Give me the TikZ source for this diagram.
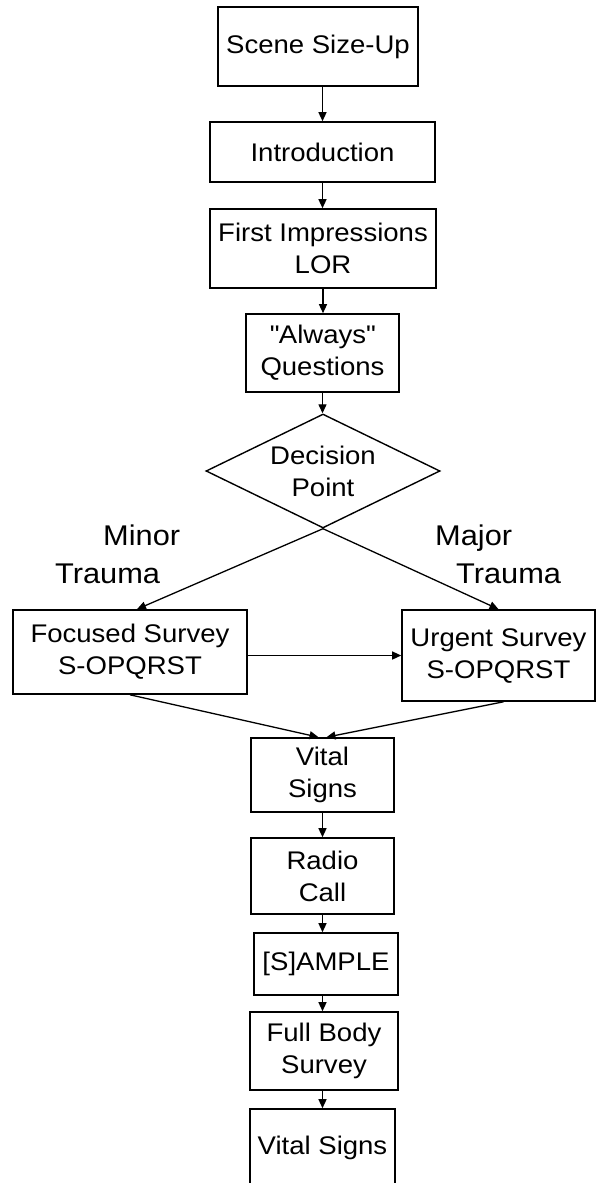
\documentclass[tikz,border=0pt]{standalone}
\usepackage{fontspec}
\setmainfont[FakeStretch=1.08]{Liberation Sans}
\usetikzlibrary{shapes.geometric,arrows.meta}
\begin{document}
\begin{tikzpicture}[x=1pt,y=-1pt,
  box/.style={draw, line width=1.6pt, rectangle, inner sep=0pt, align=center, font=\fontsize{25.5}{32}\selectfont},
  decbox/.style={draw, line width=1.4pt, diamond, aspect=2, inner sep=0pt, align=center, font=\fontsize{25.5}{32}\selectfont},
  lbl/.style={inner sep=0pt, anchor=base west, font=\fontsize{28.5}{38}\selectfont},
  conn/.style={line width=1.3pt, -{Triangle[length=9pt,width=8pt]}},
]
\useasboundingbox (0,0) rectangle (596,1183);
\fill[white] (0,0) rectangle (596,1183);

\node[box, minimum width=200pt, minimum height=79pt] (scene) at (318,46.5) {Scene Size-Up};
\node[box, minimum width=225pt, minimum height=60pt] (intro) at (322.5,152) {Introduction};
\node[box, minimum width=226pt, minimum height=79pt] (fi) at (323,248.5) {First Impressions\\LOR};
\node[box, minimum width=153pt, minimum height=78pt] (always) at (322.5,353) {\textquotedbl Always\textquotedbl\\Questions};
\node[decbox, minimum width=234pt, minimum height=114pt] (dec) at (323,471) {Decision\\Point};

\node[lbl] (minor1) at (103,545) {Minor};
\node[lbl] (minor2) at (55,583) {Trauma};
\node[lbl] (major1) at (435,545) {Major};
\node[lbl] (major2) at (456,583) {Trauma};

\node[box, minimum width=234pt, minimum height=84pt] (foc) at (130,652) {Focused Survey\\S-OPQRST};
\node[box, minimum width=193pt, minimum height=91pt] (urg) at (498.5,655.5) {Urgent Survey\\S-OPQRST};
\node[box, minimum width=143pt, minimum height=74pt] (vit1) at (322.5,775) {Vital\\Signs};
\node[box, minimum width=143pt, minimum height=76pt] (radio) at (322.5,876) {Radio\\Call};
\node[box, minimum width=144pt, minimum height=62pt] (samp) at (326,964) {[S]AMPLE};
\node[box, minimum width=148pt, minimum height=78pt] (full) at (324,1051) {Full Body\\Survey};
\node[box, minimum width=145pt, minimum height=78pt] (vit2) at (322.5,1148) {Vital Signs};

\draw[conn] (scene.south -| intro.north) -- (intro.north);
\draw[conn] (intro.south) -- (intro.south |- fi.north);
\draw[conn] (fi.south) -- (fi.south |- always.north);
\draw[conn] (always.south) -- (always.south |- dec.north);
\draw[conn] (dec.south) -- ([xshift=7pt]foc.north);
\draw[conn] (dec.south) -- (urg.north);
\draw[conn] (urg.west -| foc.east) -- (urg.west);
\draw[conn] (foc.south) -- ([xshift=-4pt]vit1.north);
\draw[conn] ([xshift=5pt]urg.south) -- ([xshift=4pt]vit1.north);
\draw[conn] (vit1.south) -- (vit1.south |- radio.north);
\draw[conn] (radio.south) -- (radio.south |- samp.north);
\draw[conn] (samp.south -| radio.south) -- (full.north -| radio.south);
\draw[conn] (full.south -| vit2.north) -- (vit2.north);
\end{tikzpicture}
\end{document}
